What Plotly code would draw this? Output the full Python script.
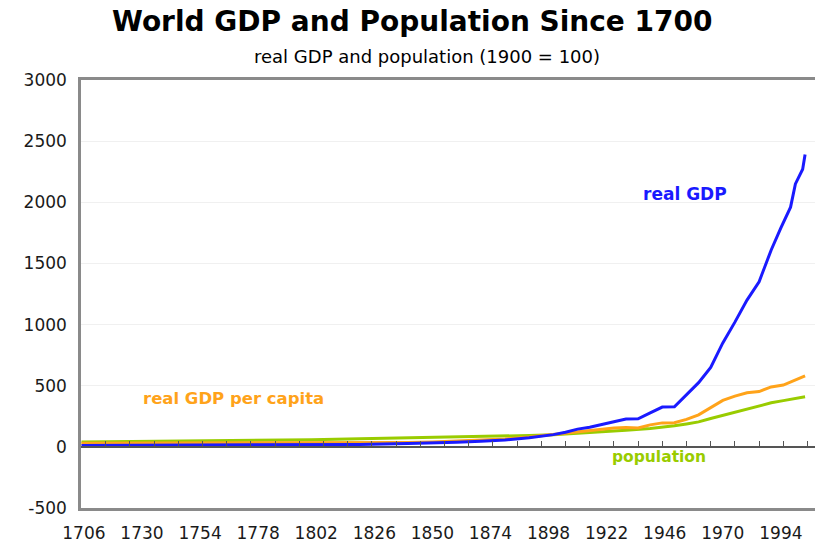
import plotly.graph_objects as go

years_gdp = [1705, 1750, 1800, 1820, 1840, 1850, 1860, 1870, 1880, 1890, 1900,
             1905, 1910, 1915, 1920, 1925, 1930, 1935, 1940, 1945, 1950, 1955,
             1960, 1965, 1970, 1975, 1980, 1985, 1990, 1994, 1998, 2000, 2001,
             2003, 2004]
real_gdp = [12, 14, 18, 20, 27, 31, 38, 46, 56, 74, 100,
            120, 145, 160, 180, 205, 228, 230, 278, 325, 328, 430,
            525, 650, 850, 1020, 1200, 1350, 1610, 1790, 1960, 2150, 2190,
            2270, 2390]

years_pc = [1705, 1750, 1800, 1820, 1840, 1850, 1860, 1870, 1880, 1890, 1900,
            1910, 1920, 1925, 1930, 1935, 1940, 1945, 1950, 1955, 1960, 1965,
            1970, 1975, 1980, 1985, 1990, 1995, 2000, 2002, 2004]
gdp_per_capita = [30, 30, 31, 30, 36, 40, 47, 56, 64, 80, 100,
                  125, 140, 155, 158, 155, 180, 196, 198, 225, 262, 320,
                  380, 415, 442, 452, 490, 505, 545, 565, 580]

years_pop = [1705, 1750, 1800, 1820, 1840, 1850, 1860, 1870, 1880, 1890, 1900,
             1910, 1920, 1930, 1940, 1945, 1950, 1955, 1960, 1965, 1970, 1975,
             1980, 1985, 1990, 1995, 2000, 2004]
population = [40, 47, 58, 67, 74, 77, 81, 82, 87, 93, 100,
              110, 120, 135, 150, 160, 172, 187, 204, 232, 258, 285,
              310, 335, 360, 378, 398, 409]

x_labels = list(range(1706, 1995, 24))
minor_ticks = list(range(1705, 2010, 10))
y_ticks = list(range(-500, 3001, 500))
y_ticktext = [str(v) for v in y_ticks]

BLUE = "#1a1aff"
ORANGE = "#ffa31a"
GREEN = "#99cc00"
FONT = "DejaVu Sans"
XR = [1704.8, 2008.1]

W, H = 815, 545
ML, MR, MT, MB = 81, 0, 80, 37

fig = go.Figure()
fig.add_trace(go.Scatter(x=years_pop, y=population, mode="lines",
                         line=dict(color=GREEN, width=3), name="population"))
fig.add_trace(go.Scatter(x=years_pc, y=gdp_per_capita, mode="lines",
                         line=dict(color=ORANGE, width=3), name="real GDP per capita"))
fig.add_trace(go.Scatter(x=years_gdp, y=real_gdp, mode="lines",
                         line=dict(color=BLUE, width=3), name="real GDP"))
fig.add_trace(go.Scatter(x=[XR[0]], y=[0], mode="markers", xaxis="x2",
                         marker=dict(opacity=0), hoverinfo="skip", showlegend=False))

fig.update_layout(
    width=W, height=H,
    margin=dict(l=ML, r=MR, t=MT, b=MB, pad=0),
    paper_bgcolor="white", plot_bgcolor="white",
    showlegend=False,
    font=dict(family=FONT, color="#1a1a1a"),
    xaxis=dict(range=XR, tickmode="array", tickvals=x_labels,
               ticktext=[str(v) for v in x_labels],
               tickfont=dict(size=17, color="#1a1a1a"),
               showgrid=False, zeroline=False,
               showline=True, linecolor="#8a8a8a", linewidth=2.5, mirror=True,
               ticks="", ticklabelstandoff=8),
    xaxis2=dict(overlaying="x", anchor="free", position=500 / 3500,
                range=XR, matches="x", showline=True, linecolor="#555555",
                linewidth=1.5, ticks="inside", ticklen=5, tickwidth=1.2,
                tickcolor="#555555", tickmode="array", tickvals=minor_ticks,
                showticklabels=False, showgrid=False, zeroline=False),
    yaxis=dict(range=[-500, 3000], tickmode="array", tickvals=y_ticks,
               ticktext=y_ticktext,
               tickfont=dict(size=17, color="#1a1a1a"),
               showgrid=True, gridcolor="#f0f0f0", gridwidth=1,
               zeroline=False, showline=True, linecolor="#8a8a8a",
               linewidth=2.5, ticks="", ticklabelstandoff=8),
)

ph = H - MT - MB
pw = W - ML - MR


def py(pix):
    return (H - MB - pix) / ph


def px(pix):
    return (pix - ML) / pw


fig.add_annotation(text="<b>World GDP and Population Since 1700</b>", xref="paper", yref="paper",
                   x=px(412), y=py(22), showarrow=False, xanchor="center", yanchor="middle",
                   font=dict(size=28, color="black", family=FONT))
fig.add_annotation(text="real GDP and population (1900 = 100)", xref="paper", yref="paper",
                   x=px(427), y=py(57), showarrow=False, xanchor="center", yanchor="middle",
                   font=dict(size=18, color="black", family=FONT))
fig.add_annotation(text="<b>real GDP</b>", xref="paper", yref="paper",
                   x=px(685), y=py(194), showarrow=False, xanchor="center", yanchor="middle",
                   font=dict(size=17, color=BLUE, family=FONT))
fig.add_annotation(text="<b>real GDP per capita</b>", xref="paper", yref="paper",
                   x=px(233), y=py(398), showarrow=False, xanchor="center", yanchor="middle",
                   font=dict(size=16.5, color=ORANGE, family=FONT))
fig.add_annotation(text="<b>population</b>", xref="paper", yref="paper",
                   x=px(659), y=py(457), showarrow=False, xanchor="center", yanchor="middle",
                   font=dict(size=15.5, color=GREEN, family=FONT))

fig.write_html("out.html", config={"displayModeBar": False},
               post_script="document.body.style.margin='0';document.body.style.overflow='hidden';")
